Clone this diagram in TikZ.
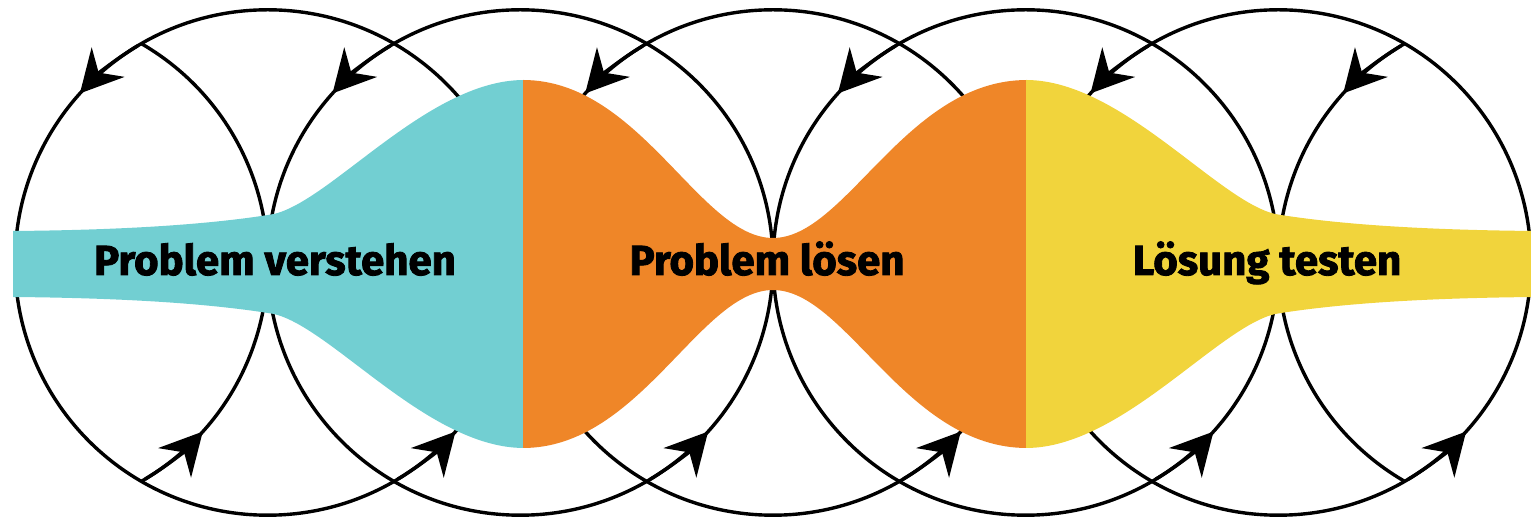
\documentclass[tikz,border=0pt]{standalone}
\usepackage{fontspec}
\setmainfont{Fira Sans}[BoldFeatures={FakeBold=2}]
\usetikzlibrary{arrows.meta}

\definecolor{tealfill}{HTML}{72CFD2}
\definecolor{orangefill}{HTML}{EF8628}
\definecolor{yellowfill}{HTML}{F1D43C}

\begin{document}
\begin{tikzpicture}[
    x=0.5pt, y=0.5pt,
    fieldline/.style={
        line width=1.7pt,
        draw=black
    },
    fieldtip/.style={
        line width=1.7pt,
        -{Stealth[length=21pt, width=22pt, inset=7pt]}
    },
    phase/.style={
        font=\fontsize{21}{25}\selectfont\bfseries,
        anchor=base,
        inner sep=0pt
    }
]
\useasboundingbox (0,0) rectangle (1531,519);
\clip (0,0) rectangle (1531,519);

% circle centres
\foreach \i/\cx in {0/15, 1/267.7, 2/520.3, 3/773, 4/1025.7, 5/1278.3, 6/1531}
    \coordinate (c\i) at (\cx,256.5);
\def\rad{252.7}

% field lines
\foreach \i in {1,...,5}
    \draw[fieldline] (c\i) circle (\rad);
\draw[fieldline] (c0) ++(-60:\rad) arc (-60:60:\rad);
\draw[fieldline] (c6) ++(120:\rad) arc (120:240:\rad);

% arrow heads
\foreach \i in {1,...,6}
    \draw[fieldtip] (c\i) ++(121:\rad) arc (121:138:\rad);
\foreach \i in {0,...,5}
    \draw[fieldtip] (c\i) ++(-59:\rad) arc (-59:-42:\rad);

% coloured band
\fill[tealfill] (13,288) .. controls (130,289) and (210,295) .. (268,304)
    .. controls (325,310) and (425,439) .. (524,439) -- (524,71)
    .. controls (425,71) and (325,200) .. (268,206)
    .. controls (210,215) and (130,221) .. (13,222) -- cycle;
\fill[orangefill] (523,439) .. controls (640,439) and (700,281) .. (773,281)
    .. controls (846,281) and (906,439) .. (1027,439) -- (1027,71)
    .. controls (906,71) and (846,229) .. (773,229)
    .. controls (700,229) and (640,71) .. (523,71) -- cycle;
\fill[yellowfill] (1026,439) .. controls (1124,439) and (1224,310) .. (1281,304)
    .. controls (1339,295) and (1419,289) .. (1536,288) -- (1536,222)
    .. controls (1419,221) and (1339,215) .. (1281,206)
    .. controls (1224,200) and (1124,71) .. (1026,71) -- cycle;

% labels
\node[phase] (understand) at (275,244) {Problem verstehen};
\node[phase] (solve) at (767,244) {Problem lösen};
\node[phase] (test) at (1267,244) {Lösung testen};

\end{tikzpicture}
\end{document}
